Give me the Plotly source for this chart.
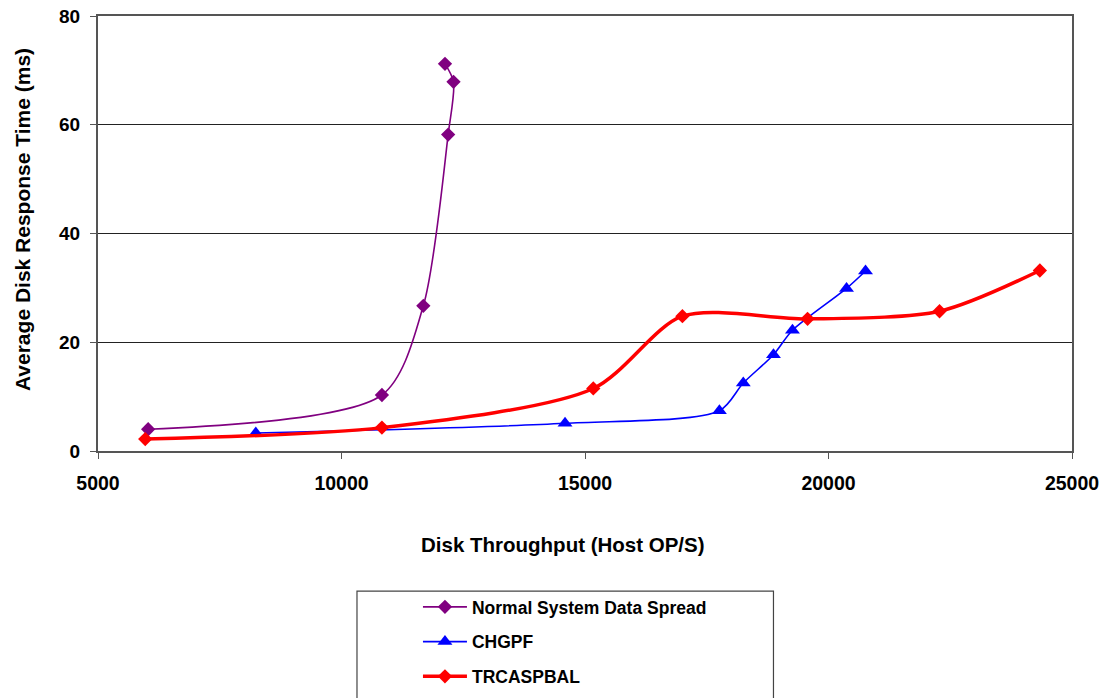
import plotly.graph_objects as go

# values
normal_x = [6030, 10830, 11680, 12190, 12300, 12125]
normal_y = [4.0, 10.3, 26.7, 58.2, 67.9, 71.2]

chgpf_x = [8240, 14590, 17760, 18250, 18870, 19260, 20370, 20760]
chgpf_y = [3.3, 5.1, 7.4, 12.5, 17.7, 22.2, 29.9, 33.1]

trc_x = [5970, 10830, 15170, 17000, 19570, 22280, 24340]
trc_y = [2.2, 4.3, 11.5, 24.8, 24.3, 25.7, 33.2]

x_ticks = [5000, 10000, 15000, 20000, 25000]
y_ticks = [0, 20, 40, 60, 80]

font = "Liberation Sans, Arial, sans-serif"

fig = go.Figure()
fig.add_trace(go.Scatter(x=normal_x, y=normal_y, name="<b>Normal System Data Spread</b>",
                         mode="lines+markers", line=dict(color="#800080", width=1.6, shape="spline", smoothing=0.8),
                         marker=dict(symbol="diamond", size=11, color="#800080"), legendgroup="a"))
fig.add_trace(go.Scatter(x=chgpf_x, y=chgpf_y, name="<b>CHGPF</b>",
                         mode="lines+markers", line=dict(color="#0000FF", width=1.6, shape="spline", smoothing=0.8),
                         marker=dict(symbol="triangle-up", size=13, color="#0000FF"), legendgroup="b"))
fig.add_trace(go.Scatter(x=trc_x, y=trc_y, name="<b>TRCASPBAL</b>",
                         mode="lines+markers", line=dict(color="#FF0000", width=3.5, shape="spline", smoothing=0.8),
                         marker=dict(symbol="diamond", size=11, color="#FF0000"), legendgroup="c"))

fig.update_layout(
    width=1109, height=698,
    margin=dict(l=98, r=37, t=16, b=247),
    paper_bgcolor="white", plot_bgcolor="white",
    font=dict(family=font, size=16, color="black"),
    showlegend=True,
    legend=dict(xref="paper", yref="container", x=0.3285, y=0.1562, xanchor="left", yanchor="top",
                font=dict(size=17.5, family=font, color="black"),
                itemwidth=44, tracegroupgap=9, bgcolor="rgba(0,0,0,0)", borderwidth=0),
)
fig.update_xaxes(range=[5000, 25000], tickvals=x_ticks, ticktext=["<b>%d</b>" % v for v in x_ticks],
                 ticks="outside", ticklen=6, tickcolor="#555", automargin=False, ticklabelstandoff=8,
                 ticklabeloverflow="allow",
                 showline=True, linecolor="#555", linewidth=2, mirror=True, showgrid=False, zeroline=False,
                 tickfont=dict(size=19.5, family=font))
fig.update_yaxes(range=[0, 80], tickvals=y_ticks, ticktext=["<b>%d</b>" % v for v in y_ticks],
                 ticks="outside", ticklen=6, tickcolor="#555", automargin=False, ticklabelstandoff=6,
                 ticklabeloverflow="allow",
                 showline=True, linecolor="#555", linewidth=2, mirror=True,
                 showgrid=True, gridcolor="#222", gridwidth=1, zeroline=False,
                 tickfont=dict(size=19, family=font))

# axis titles as annotations, they sit a little off-centre in the original
fig.add_annotation(text="<b>Disk Throughput (Host OP/S)</b>", xref="paper", yref="paper",
                   x=0.4774, y=-0.2138, xanchor="center", yanchor="middle", showarrow=False,
                   font=dict(size=20.5, family=font, color="black"))
fig.add_annotation(text="<b>Average Disk Response Time (ms)</b>", xref="paper", yref="paper",
                   x=-0.078, y=0.531, xanchor="center", yanchor="middle", showarrow=False, textangle=-90,
                   font=dict(size=21, family=font, color="black"))

# legend frame, wider than plotly's own box
fig.add_shape(type="rect", xref="paper", yref="paper", x0=0.2659, x1=0.6935, y0=-0.322, y1=-0.62,
              line=dict(color="#444", width=1.2), fillcolor="rgba(0,0,0,0)")

# drop the page's default body margin so the figure sits at the window's corner
fig.write_html("out.html", config={"displayModeBar": False},
               post_script="document.body.style.margin='0';")
